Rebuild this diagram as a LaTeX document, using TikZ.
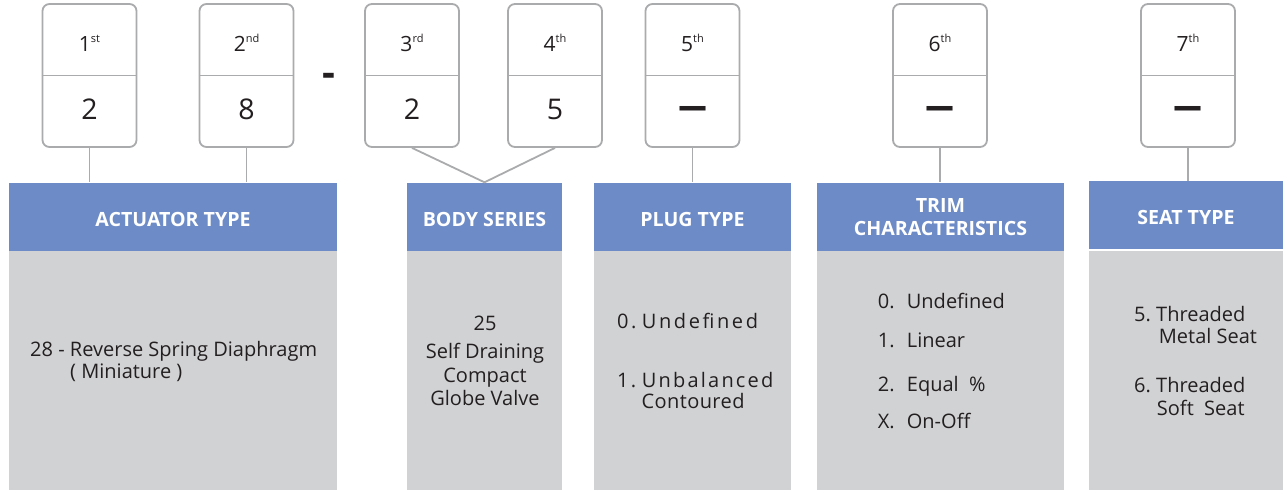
\documentclass[tikz,border=0pt]{standalone}
\usepackage{fontspec}
\setmainfont{Open Sans}
\usepackage{xcolor}
\usepackage{graphicx}
\usepackage{tikz}
\usetikzlibrary{positioning}
\definecolor{hdrblue}{RGB}{109,139,198}
\definecolor{panelgrey}{RGB}{209,210,212}
\definecolor{boxline}{RGB}{170,171,173}
\definecolor{txt}{RGB}{35,31,32}
\newcommand{\ordsup}[1]{\raisebox{9pt}{\fontsize{11}{12}\selectfont #1}}
\newcommand{\longdash}{\scalebox{1.55}[1]{–}}
\tikzset{
    codebox/.style = {draw=boxline, line width=1.8pt, rounded corners=7pt, fill=white, minimum width=94pt, minimum height=143pt, inner sep=0pt},
    header/.style = {fill=hdrblue, inner sep=0pt, minimum height=68.5pt, text=white, align=center, font=\fontsize{19.6}{23.3}\selectfont\bfseries},
    headone/.style = {header, text height=19pt, text depth=0pt},
    panel/.style = {fill=panelgrey, inner sep=0pt, minimum height=239pt},
}

\begin{document}
\begin{tikzpicture}[
	x=1pt, y=-1pt,
	text=txt,
	font=\fontsize{20}{24}\selectfont
]
\tikzset{
    posnum/.style = {anchor=base, inner sep=0pt, font=\fontsize{21}{25}\selectfont},
    valnum/.style = {anchor=base, inner sep=0pt, font=\fontsize{28.5}{32}\selectfont},
    valdash/.style = {anchor=base, inner sep=0pt, font=\fontsize{40}{40}\selectfont\bfseries},
    item/.style = {anchor=base west, inner sep=0pt},
    itemc/.style = {anchor=base, inner sep=0pt},
    itemsp/.style = {item, font=\fontsize{20}{24}\selectfont\addfontfeature{LetterSpace=#1}},
    splitline/.style = {-, draw=boxline, line width=1.8pt},
    link/.style = {-, draw=boxline, line width=1.8pt}
}
\useasboundingbox (0,0) rectangle (1283,490);
%
\node[codebox] at (89.5,75.5) (c1) {};
\node[codebox] at (246.5,75.5) (c2) {};
\node[codebox] at (412,75.5) (c3) {};
\node[codebox] at (555,75.5) (c4) {};
\node[codebox] at (692.5,75.5) (c5) {};
\node[codebox] at (940,75.5) (c6) {};
\node[codebox] at (1188,75.5) (c7) {};
\foreach \b in {c1,c2,c3,c4,c5,c6,c7}
    \draw[splitline] (\b.west) -- (\b.east);
%
\node[posnum] at (89.5,51.7) (p1) {1\ordsup{st}};
\node[posnum] at (246.5,51.7) (p2) {2\ordsup{nd}};
\node[posnum] at (412,51.7) (p3) {3\ordsup{rd}};
\node[posnum] at (555,51.7) (p4) {4\ordsup{th}};
\node[posnum] at (692.5,51.7) (p5) {5\ordsup{th}};
\node[posnum] at (940,51.7) (p6) {6\ordsup{th}};
\node[posnum] at (1188,51.7) (p7) {7\ordsup{th}};
%
\node[valnum] at (89.5,119) (v1) {2};
\node[valnum] at (246.5,119) (v2) {8};
\node[valnum] at (412,119) (v3) {2};
\node[valnum] at (555,119) (v4) {5};
\node[valdash] at (692.5,119) (v5) {\longdash};
\node[valdash] at (940,119) (v6) {\longdash};
\node[valdash] at (1188,119) (v7) {\longdash};
\node[valdash] at (328.5,86) (sep) {-};
%
\node[panel, minimum width=328pt] at (173,370.5) (pact) {};
\node[panel, minimum width=155pt] at (484.5,370.5) (pbody) {};
\node[panel, minimum width=197pt] at (692.5,370.5) (pplug) {};
\node[panel, minimum width=247pt] at (940.5,370.5) (ptrim) {};
\node[panel, minimum width=194pt] at (1186,370.5) (pseat) {};
%
\node[headone, minimum width=328pt] at (173,216.75) (hact) {ACTUATOR TYPE};
\node[headone, minimum width=155pt] at (484.5,216.75) (hbody) {BODY SERIES};
\node[headone, minimum width=197pt] at (692.5,216.75) (hplug) {PLUG TYPE};
\node[header, minimum width=247pt] at (940.5,216.75) (htrim) {TRIM\\CHARACTERISTICS};
\node[headone, minimum width=194pt] at (1186,215) (hseat) {SEAT TYPE};
%
\draw[link] (c1.south) -- (c1.south |- hact.north);
\draw[link] (c2.south) -- (c2.south |- hact.north);
\draw[link] (c3.south) -- (hbody.north) -- (c4.south);
\draw[link] (c5.south) -- (c5.south |- hplug.north);
\draw[link] (c6.south) -- (c6.south |- htrim.north);
\draw[link] (c7.south) -- (c7.south |- hseat.north);
%
\node[item] at (30,356) (a1) {28 - Reverse Spring Diaphragm};
\node[item] at (70,378) (a2) {( Miniature )};
%
\node[itemc] at (485,330) (b1) {25};
\node[itemc] at (485,358.3) (b2) {Self Draining};
\node[itemc] at (485,382.3) (b3) {Compact};
\node[itemc] at (485,405.7) (b4) {Globe Valve};
%
\node[itemsp=13] at (617,328) (g0) {\makebox[24.7pt][l]{0.}Undefined};
\node[itemsp=11] at (617,387.7) (g1) {\makebox[24.7pt][l]{1.}Unbalanced};
\node[itemsp=2] at (641.5,408.3) (g2) {Contoured};
%
\node[item] at (877.7,308.3) (t0) {\makebox[29pt][l]{0.}Undefined};
\node[item] at (877.7,347.7) (t1) {\makebox[29pt][l]{1.}Linear};
\node[item] at (877.7,391) (t2) {\makebox[29pt][l]{2.}Equal\ \ \%};
\node[item] at (877.7,428.3) (tx) {\makebox[29pt][l]{X.}On-Off};
%
\node[item] at (1134,321) (s5) {\makebox[22pt][l]{5.}Threaded};
\node[item] at (1158.7,343.7) (s5b) {Metal Seat};
\node[item] at (1134,392.7) (s6) {\makebox[22pt][l]{6.}Threaded};
\node[item] at (1156.7,415.7) (s6b) {Soft\ \ Seat};
\end{tikzpicture}
\end{document}
